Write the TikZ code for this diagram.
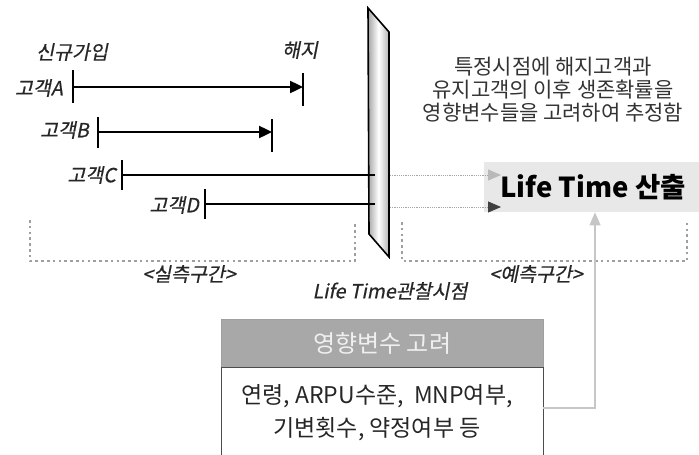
\documentclass[tikz,border=0pt]{standalone}
\usepackage{fontspec}
\setmainfont{Noto Sans CJK KR}
\newfontfamily\itf{Noto Sans CJK KR}[FakeSlant=0.2,FakeBold=0.6]
\usetikzlibrary{arrows.meta}
\begin{document}
\begin{tikzpicture}[x=1pt,y=-1pt,
  tl/.style={line width=2.4pt,black},
  tickln/.style={line width=2.4pt,black},
  lbl/.style={font=\itf\fontsize{19.5}{22}\selectfont,inner sep=0pt,text=black!85},
  dotbr/.style={gray!75,line width=2.6pt,dash pattern=on 2.6pt off 3.2pt,line cap=butt},
  dotarr/.style={line width=0.9pt,dash pattern=on 1.2pt off 1pt},
  grtip/.style={-{Triangle[length=13pt,width=11pt,color=gray!55,fill=gray!55]}},
  dktip/.style={-{Triangle[length=13pt,width=11pt,color=black!75,fill=black!75]}},
  txt/.style={font=\fontsize{21}{23}\selectfont,align=center,inner sep=0pt,text=black!80}
]
\useasboundingbox (0,0) rectangle (699,455);

% Life Time box
\node[fill=gray!18,minimum width=215pt,minimum height=50pt,inner sep=0pt,anchor=north west] (lt) at (484,162) {};
\node[font=\bfseries\fontsize{27.5}{30}\selectfont,inner sep=0pt] (lttxt) at (593,187) {Life Time 산출};

% dotted brackets
\coordinate (l1) at (30,220); \coordinate (l2) at (30,261);
\coordinate (l3) at (355,261); \coordinate (l4) at (355,222);
\draw[dotbr] (l1) -- (l2) -- (l3) -- (l4);
\coordinate (r1) at (402,222); \coordinate (r2) at (402,261);
\coordinate (r3) at (687,261); \coordinate (r4) at (687,220);
\draw[dotbr] (r1) -- (r2) -- (r3) -- (r4);

% bar
\coordinate (b1) at (368,8); \coordinate (b2) at (389,32);
\coordinate (b3) at (389,257); \coordinate (b4) at (369,234);
\shade[left color=gray!70,right color=gray!60,middle color=white] (b1) -- (b2) -- (b3) -- (b4) -- cycle;
\draw[line width=1.6pt,line join=miter] (b1) -- (b2) -- (b3) -- (b4) -- cycle;

% timelines
\coordinate (a0) at (73,87); \coordinate (a1) at (303,87);
\draw[tl,-{Triangle[length=13pt,width=12pt]}] (a0) -- (a1);
\draw[tickln] (73,70) -- (73,103);
\draw[tickln] (303,73) -- (303,106);

\coordinate (bb0) at (98,132); \coordinate (bb1) at (272,132);
\draw[tl,-{Triangle[length=13pt,width=12pt]}] (bb0) -- (bb1);
\draw[tickln] (98,117) -- (98,148);
\draw[tickln] (272,119) -- (272,152);

\coordinate (c0) at (122,175); \coordinate (c1) at (375,175);
\draw[tl] (c0) -- (c1);
\draw[tickln] (122,160) -- (122,190);

\coordinate (d0) at (205,204); \coordinate (d1) at (375,204);
\draw[tl] (d0) -- (d1);
\draw[tickln] (205,189) -- (205,219);

% dotted arrows to Life Time
\coordinate (cs) at (390,175); \coordinate (ce) at (501,175);
\coordinate (ds) at (390,207); \coordinate (de) at (501,207);
\draw[dotarr,gray!70,grtip] (cs) -- (ce);
\draw[dotarr,gray!70,dktip] (ds) -- (de);

% labels
\node[lbl] (lnew) at (72,52) {신규가입};
\node[lbl] (lend) at (300,50) {해지};
\node[lbl,anchor=east] (la) at (63,88) {고객A};
\node[lbl,anchor=east] (lb) at (89,130) {고객B};
\node[lbl,anchor=east] (lc) at (116,175) {고객C};
\node[lbl,anchor=east] (ld) at (199,205) {고객D};
\node[lbl] (lreal) at (189,274) {<실측구간>};
\node[lbl] (lpred) at (536,274) {<예측구간>};
\node[lbl] (lobs) at (390,291) {Life Time관찰시점};

% top right text
\node[txt] (desc) at (553,90) {특정시점에 해지고객과\\유지고객의 이후 생존확률을\\영향변수들을 고려하여 추정함};

% bottom box
\node[fill=gray!68,draw=gray!75,minimum width=322pt,minimum height=48pt,inner sep=0pt,anchor=north west,
      font=\fontsize{24}{26}\selectfont,text=gray!12] (hdr) at (221,319) {영향변수 고려};
\node[fill=white,draw=black!70,line width=0.9pt,minimum width=322pt,minimum height=92pt,inner sep=0pt,anchor=north west] (body) at (221,367) {};
\node[txt,font=\fontsize{23}{33}\selectfont,text=black!85] (bodytxt) at (377,413) {연령, ARPU수준,\ \ MNP여부,\\기변횟수, 약정여부 등};

% up arrow
\coordinate (u1) at (543,408); \coordinate (u2) at (595,408);
\draw[gray!45,line width=1.3pt,-{Triangle[length=13pt,width=11pt]}] (u1) -- (u2) -- (lt.south -| u2);
\end{tikzpicture}
\end{document}
